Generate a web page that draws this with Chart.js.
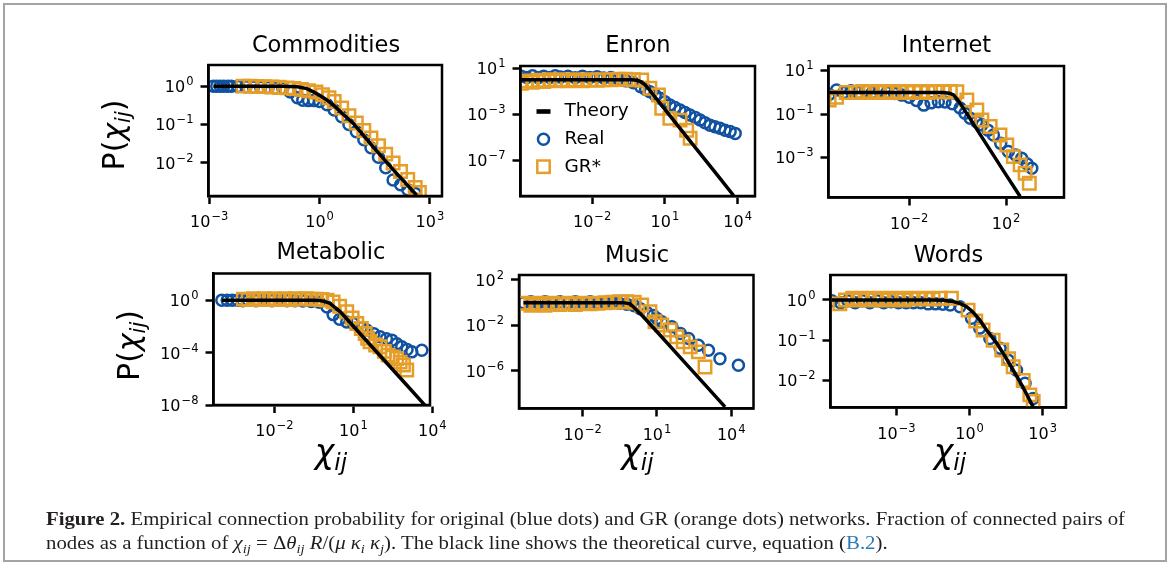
<!DOCTYPE html>
<html>
<head>
<meta charset="utf-8">
<script src="https://cdn.jsdelivr.net/npm/chart.js@4.4.1/dist/chart.umd.min.js"></script>
<style>
  html, body { margin: 0; padding: 0; background: #fff; }
  #page { position: relative; width: 1169px; height: 568px; overflow: hidden; background: #fff; }
  #page canvas { position: absolute; left: 0; top: 0; }
  #frame { position: absolute; left: 3px; top: 3px; width: 1164px; height: 559px; border: 2px solid #a3a3a3; box-sizing: border-box; }
  .cap { position: absolute; left: 46px; font-family: 'Liberation Serif', serif; font-size: 19px; line-height: 20px;
         white-space: nowrap; transform-origin: 0 50%; color: #231f20; }
  .cap sub { font-size: 70%; vertical-align: -0.3em; line-height: 0; }
  .cap .ref { color: #2a7ab8; }
</style>
</head>
<body>
<div id="page">
  <div id="frame"></div>
  <canvas id="c0" width="1169" height="568"></canvas>
  <canvas id="c1" width="1169" height="568"></canvas>
  <canvas id="c2" width="1169" height="568"></canvas>
  <canvas id="c3" width="1169" height="568"></canvas>
  <canvas id="c4" width="1169" height="568"></canvas>
  <canvas id="c5" width="1169" height="568"></canvas>
  <div class="cap" id="cap1" style="top:509px"><b>Figure 2.</b> Empirical connection probability for original (blue dots) and GR (orange dots) networks. Fraction of connected pairs of</div>
  <div class="cap" id="cap2" style="top:533px">nodes as a function of <i>χ<sub>ij</sub></i> = Δ<i>θ<sub>ij</sub></i> <i>R</i>/(<i>μ</i> <i>κ<sub>i</sub></i> <i>κ<sub>j</sub></i>). The black line shows the theoretical curve, equation (<span class="ref">B.2</span>).</div>
</div>
<script>
// ---- data: [chi, P(chi)] ----
const seriesLabels = ['Theory', 'Real', 'GR*'];

const commoditiesTheory = [[1.3e-3,1],[0.1,1],[0.25,0.96],[0.45,0.86],[0.68,0.71],[1,0.58],[1.5,0.45],[2.4,0.32],[4,0.2],[8.3,0.107],[29,0.026],[102,0.0066],[437,0.00145]];
const commoditiesReal = [[1.3e-3,1],[1.6e-3,1],[2e-3,1],[2.5e-3,1],[3.2e-3,1],[4e-3,1],[6e-3,0.98],[1e-2,0.97],[1.6e-2,0.95],[2.5e-2,0.93],[4e-2,0.92],[6.3e-2,0.9],[0.1,0.88],[0.16,0.7],[0.25,0.5],[0.35,0.43],[0.5,0.42],[0.7,0.42],[1,0.4],[1.6,0.33],[2.5,0.24],[4,0.16],[6.3,0.1],[10,0.065],[16,0.04],[25,0.025],[40,0.014],[63,0.0075],[100,0.0036],[160,0.0027],[250,0.002],[400,0.0016]];
const commoditiesGR = [[8.3e-3,1],[1.3e-2,1],[2e-2,0.98],[3.2e-2,0.97],[5e-2,0.95],[8e-2,0.93],[0.13,0.9],[0.2,0.87],[0.32,0.82],[0.5,0.76],[0.8,0.7],[1.2,0.6],[1.8,0.5],[2.5,0.4],[4,0.27],[6.3,0.17],[10,0.11],[16,0.07],[25,0.045],[40,0.028],[63,0.017],[100,0.01],[160,0.006],[250,0.0037],[400,0.0023],[520,0.0017]];

const enronTheory = [[1.1e-5,1],[0.4,1],[0.7,0.9],[1,0.68],[1.4,0.42],[1.8,0.25],[3,0.063],[10,2.6e-3],[100,5.8e-6],[1000,1.3e-8],[6800,8e-11]];
const enronReal = [[1.2e-5,2.0],[2e-5,1.6],[3.5e-5,2.2],[6e-5,1.5],[1e-4,2.0],[1.8e-4,1.6],[3e-4,2.2],[5e-4,1.7],[1e-3,2.0],[2e-3,1.5],[4e-3,2.0],[8e-3,1.6],[1.6e-2,1.8],[3e-2,1.4],[6e-2,1.6],[0.12,1.2],[0.25,0.8],[0.5,0.55],[1,0.25],[1.6,0.14],[2.4,0.091],[4,0.045],[6.3,0.024],[10,0.012],[16,6.3e-3],[26,3.8e-3],[42,2.3e-3],[67,1.4e-3],[107,8.3e-4],[180,5e-4],[282,3.1e-4],[450,1.8e-4],[724,1.1e-4],[1150,8e-5],[1860,5.8e-5],[3000,4e-5],[4900,3e-5],[7900,2.1e-5]];
const enronGR = [[1.2e-5,0.5],[2e-5,0.8],[3.5e-5,0.6],[6e-5,0.9],[1e-4,0.7],[1.8e-4,1.0],[3e-4,0.8],[5e-4,1.0],[1e-3,0.8],[2e-3,1.0],[4e-3,0.8],[8e-3,1.0],[1.6e-2,0.9],[3e-2,1.0],[6e-2,1.0],[0.12,1.1],[0.25,1.1],[0.5,1.0],[1.1,0.95],[2.4,0.18],[5.4,0.047],[7.4,3.2e-3],[16,4.3e-4],[42,3e-4],[79,4e-5],[110,8e-6]];

const internetTheory = [[5e-6,1],[0.25,1],[0.45,0.92],[0.68,0.76],[1,0.45],[1.26,0.32],[10,8.7e-3],[100,1.6e-4],[380,1.6e-5]];
const internetReal = [[5e-6,0.8],[1e-5,1.3],[2e-5,1.0],[4e-5,1.2],[8e-5,1.0],[1.6e-4,1.2],[3e-4,1.0],[6e-4,1.2],[1.2e-3,1.0],[2.5e-3,0.9],[5e-3,0.75],[1e-2,0.6],[2e-2,0.42],[4e-2,0.26],[8e-2,0.33],[0.16,0.37],[0.3,0.36],[0.6,0.3],[1.26,0.19],[2,0.11],[3.3,0.065],[6,0.045],[10,0.032],[18,0.018],[30,0.011],[60,4.5e-3],[124,1.9e-3],[250,1.3e-3],[440,9.3e-4],[750,5e-4],[1150,3.2e-4]];
const internetGR = [[5e-6,0.45],[1e-5,0.6],[2.5e-5,1.0],[6e-5,1.0],[1.2e-4,1.1],[2.5e-4,1.0],[5e-4,1.1],[1e-3,1.0],[2e-3,1.1],[4e-3,1.0],[8e-3,1.1],[1.6e-2,1.0],[3e-2,1.1],[6e-2,1.0],[0.12,1.1],[0.25,1.05],[0.5,1.1],[0.93,1.07],[2.4,0.45],[6.2,0.155],[10,0.054],[22,0.027],[56,0.011],[107,3.8e-3],[200,1.1e-3],[380,4.6e-4],[610,1.9e-4],[910,6.6e-5]];

const metabolicTheory = [[1e-4,1],[0.3,1],[0.55,0.95],[0.8,0.8],[1.3,0.56],[3.2,0.13],[10,0.0105],[100,6.6e-5],[1000,4.2e-7],[5200,1.1e-8]];
const metabolicReal = [[1e-4,1],[1.6e-4,1],[2.5e-4,1],[4e-4,1],[6.3e-4,0.9],[1e-3,1],[2e-3,0.9],[4e-3,1],[8e-3,0.9],[1.6e-2,1],[3e-2,0.9],[6e-2,0.9],[0.12,0.85],[0.25,0.8],[0.5,0.7],[1,0.3],[1.7,0.08],[3,0.035],[5.6,0.022],[10,0.017],[20,8e-3],[32,5.4e-3],[60,2.8e-3],[103,1.7e-3],[180,1.2e-3],[290,9.3e-4],[450,5e-4],[690,2.9e-4],[1100,1.8e-4],[1660,1.2e-4],[4000,1.6e-4]];
const metabolicGR = [[6.6e-4,1.2],[1e-3,1.1],[1.6e-3,1.3],[2.5e-3,1.1],[4e-3,1.3],[6.3e-3,1.1],[1e-2,1.3],[1.6e-2,1.1],[2.5e-2,1.3],[4e-2,1.1],[6.3e-2,1.3],[0.1,1.2],[0.16,1.3],[0.25,1.2],[0.4,1.2],[0.63,1.1],[1,1.0],[1.7,0.74],[3,0.35],[5.6,0.13],[9,0.045],[13.5,0.017],[20,7e-3],[28,3e-3],[35,1.3e-3],[43,6.9e-4],[70,4e-4],[103,2.9e-4],[150,1.3e-4],[210,6.8e-5],[300,5e-5],[440,3.8e-5],[600,2e-5],[800,1.2e-5],[1070,5e-6]];

const musicTheory = [[4e-5,1],[0.3,1],[0.5,0.97],[0.8,0.8],[1.1,0.44],[2.8,0.058],[10,2.8e-3],[100,1.1e-5],[1000,4.4e-8],[5600,6.9e-10]];
const musicReal = [[4e-5,1.0],[8e-5,1.2],[1.6e-4,1.0],[3e-4,1.2],[6e-4,1.0],[1.2e-3,1.2],[2.5e-3,1.0],[5e-3,1.2],[1e-2,1.0],[2e-2,1.2],[4e-2,1.0],[8e-2,1.1],[0.16,1.0],[0.3,0.9],[0.6,0.75],[1.2,0.55],[2.1,0.3],[4,0.13],[7.1,0.075],[10,0.04],[15.5,0.021],[40,7.6e-3],[87,2e-3],[190,7.1e-4],[470,1.8e-4],[1200,6.6e-5],[3500,1.2e-5],[19500,3.2e-6]];
const musicGR = [[4e-5,0.9],[8e-5,0.6],[1.6e-4,0.9],[3e-4,0.6],[6e-4,0.9],[1.2e-3,0.7],[2.5e-3,0.9],[5e-3,0.7],[1e-2,0.9],[2e-2,0.8],[4e-2,0.9],[8e-2,1.0],[0.16,1.1],[0.3,1.2],[0.6,1.2],[1.2,1.1],[2.4,0.62],[5.2,0.16],[8.3,0.021],[15.5,0.011],[34,3.9e-3],[63,1e-3],[115,3.6e-4],[220,1.3e-4],[470,4.7e-5],[870,2.2e-6]];

const wordsTheory = [[2.2e-6,1],[0.03,1],[0.08,0.98],[0.2,0.92],[0.4,0.82],[0.76,0.68],[1.3,0.52],[2.6,0.32],[5,0.18],[13,0.085],[30,0.038],[62,0.018],[150,0.0072],[410,0.0022]];
const wordsReal = [[2.2e-6,0.95],[5e-6,0.85],[1e-5,0.95],[2e-5,0.85],[4e-5,0.95],[8e-5,0.85],[1.6e-4,0.95],[3e-4,0.85],[6e-4,0.9],[1.2e-3,0.85],[2.5e-3,0.85],[5e-3,0.85],[1e-2,0.85],[2e-2,0.8],[4e-2,0.8],[0.08,0.78],[0.16,0.75],[0.4,0.68],[1.2,0.35],[2.6,0.2],[6.8,0.11],[18,0.063],[39,0.032],[85,0.018],[190,8.5e-3],[410,3.6e-3]];
const wordsGR = [[4.7e-6,0.8],[8e-6,1.0],[1.6e-5,1.1],[3.2e-5,1.0],[6.3e-5,1.1],[1.3e-4,1.0],[2.5e-4,1.1],[5e-4,1.0],[1e-3,1.1],[2e-3,1.0],[4e-3,1.1],[8e-3,1.05],[1.6e-2,1.1],[3.2e-2,1.05],[6.3e-2,1.1],[0.18,1.1],[0.87,0.56],[1.8,0.3],[3.6,0.18],[9.3,0.1],[21,0.057],[40,0.035],[62,0.022],[160,0.01],[300,4.4e-3],[410,3e-3]];

// tick values per panel
const commoditiesXTicks = [1e-3, 1, 1e3];
const commoditiesYTicks = [1, 1e-1, 1e-2];
const enronXTicks = [1e-2, 1e1, 1e4];
const enronYTicks = [1e1, 1e-3, 1e-7];
const internetXTicks = [1e-2, 1e2];
const internetYTicks = [1e1, 1e-1, 1e-3];
const metabolicXTicks = [1e-2, 1e1, 1e4];
const metabolicYTicks = [1, 1e-4, 1e-8];
const musicXTicks = [1e-2, 1e1, 1e4];
const musicYTicks = [1e2, 1e-2, 1e-6];
const wordsXTicks = [1e-3, 1, 1e3];
const wordsYTicks = [1, 1e-1, 1e-2];

// ---- layout (page pixels) ----
const panels = [
  { title: 'Commodities', theory: commoditiesTheory, real: commoditiesReal, gr: commoditiesGR, xt: commoditiesXTicks, yt: commoditiesYTicks,
    box: [208.5, 65, 442, 196], xr: [-3.02, 3.33], yr: [-2.86, 0.55], titleAt: [326, 52], yLabelAt: [124, 135] },
  { title: 'Enron', theory: enronTheory, real: enronReal, gr: enronGR, xt: enronXTicks, yt: enronYTicks,
    box: [520.5, 66, 755, 196], xr: [-4.955, 4.715], yr: [-10.14, 1.2], titleAt: [638, 51.7], legend: true },
  { title: 'Internet', theory: internetTheory, real: internetReal, gr: internetGR, xt: internetXTicks, yt: internetYTicks,
    box: [828.5, 66, 1064, 197.5], xr: [-5.33, 4.39], yr: [-4.84, 1.216], titleAt: [946.5, 52] },
  { title: 'Metabolic', theory: metabolicTheory, real: metabolicReal, gr: metabolicGR, xt: metabolicXTicks, yt: metabolicYTicks,
    box: [213.5, 273.5, 430, 405], xr: [-4.317, 3.913], yr: [-7.95, 2.02], titleAt: [331, 259.3], yLabelAt: [139, 345.5], xLabelAt: [331, 463] },
  { title: 'Music', theory: musicTheory, real: musicReal, gr: musicGR, xt: musicXTicks, yt: musicYTicks,
    box: [519, 275, 753.5, 408.5], xr: [-4.577, 4.9], yr: [-9.31, 2.44], titleAt: [637, 261.7], xLabelAt: [637.5, 463] },
  { title: 'Words', theory: wordsTheory, real: wordsReal, gr: wordsGR, xt: wordsXTicks, yt: wordsYTicks,
    box: [830.5, 275, 1066, 407.5], xr: [-5.71, 3.96], yr: [-2.67, 0.62], titleAt: [948.5, 261.7], xLabelAt: [950, 463] }
];

const BLUE = 'rgb(16,82,160)';
const ORANGE = 'rgb(229,158,40)';
const FONT = '"DejaVu Sans"';
const YAXIS_W = 100, XAXIS_H = 60;

// "10" with a raised exponent, like matplotlib's mathtext tick labels
function drawPow(ctx, v, x, by, align) {
  const e = Math.round(Math.log10(v));
  const ex = e < 0 ? '\u2212' + (-e) : String(e);
  ctx.textBaseline = 'alphabetic';
  ctx.textAlign = 'left';
  ctx.font = `16px ${FONT}`;
  const wb = ctx.measureText('10').width;
  ctx.font = `11.5px ${FONT}`;
  const we = ctx.measureText(ex).width;
  const total = wb + 1 + we;
  const x0 = align === 'right' ? x - total : x - total / 2;
  ctx.font = `16px ${FONT}`;
  ctx.fillText('10', x0, by);
  ctx.font = `11.5px ${FONT}`;
  ctx.fillText(ex, x0 + wb + 1, by - 7);
}

// draw a run of text pieces (mixed upright/italic/subscript) centred at cx on baseline by
function drawMath(ctx, parts, cx, by) {
  let w = 0;
  parts.forEach(p => { ctx.font = p.f; p.w = ctx.measureText(p.t).width; w += p.w; });
  let x = cx - w / 2;
  ctx.textAlign = 'left';
  ctx.textBaseline = 'alphabetic';
  parts.forEach(p => { ctx.font = p.f; ctx.fillText(p.t, x, by + (p.dy || 0)); x += p.w; });
}
function chiParts(size, withP) {
  const sub = { t: 'ij', f: `italic ${Math.round(size * 0.7)}px ${FONT}`, dy: size * 0.2 };
  const chi = { t: 'χ', f: `italic ${size}px ${FONT}` };
  if (!withP) return [chi, sub];
  return [{ t: 'P(', f: `${size}px ${FONT}` }, chi, sub, { t: ')', f: `${size}px ${FONT}` }];
}

const panelDecor = {
  id: 'panelDecor',
  afterDraw(chart, args, opts) {
    const ctx = chart.ctx, a = chart.chartArea;
    const xs = chart.scales.x, ys = chart.scales.y;
    ctx.save();
    ctx.strokeStyle = '#000';
    ctx.lineWidth = 2.5;
    ctx.strokeRect(a.left, a.top, a.right - a.left, a.bottom - a.top);
    ctx.fillStyle = '#000';
    // tick labels
    xs.ticks.forEach(t => drawPow(ctx, t.value, xs.getPixelForValue(t.value), a.bottom + 31, 'center'));
    ys.ticks.forEach(t => drawPow(ctx, t.value, a.left - 15, ys.getPixelForValue(t.value) + 5.8, 'right'));
    // title
    ctx.font = `22.5px ${FONT}`;
    ctx.textAlign = 'center';
    ctx.textBaseline = 'alphabetic';
    ctx.fillText(opts.title, opts.titleAt[0], opts.titleAt[1]);
    if (opts.yLabelAt) {
      ctx.save();
      ctx.translate(opts.yLabelAt[0], opts.yLabelAt[1]);
      ctx.rotate(-Math.PI / 2);
      drawMath(ctx, chiParts(30, true), 0, 0);
      ctx.restore();
    }
    if (opts.xLabelAt) drawMath(ctx, chiParts(33, false), opts.xLabelAt[0], opts.xLabelAt[1]);
    if (opts.legend) {
      const ds = chart.data.datasets;
      const mx = a.left + 23, tx = a.left + 44;
      const rows = [a.top + 45.5, a.top + 73.3, a.top + 100.7];
      ctx.fillStyle = '#000';
      ctx.fillRect(mx - 7, rows[0] - 2.3, 14, 4.6);
      ctx.lineWidth = 2.5;
      ctx.strokeStyle = BLUE;
      ctx.beginPath(); ctx.arc(mx, rows[1], 5.5, 0, Math.PI * 2); ctx.stroke();
      ctx.strokeStyle = ORANGE;
      ctx.strokeRect(mx - 6.2, rows[2] - 6.2, 12.4, 12.4);
      ctx.fillStyle = '#000';
      ctx.font = `18.5px ${FONT}`;
      ctx.textAlign = 'left';
      ctx.textBaseline = 'middle';
      ds.forEach((d, i) => ctx.fillText(d.label, tx, rows[i]));
    }
    ctx.restore();
  }
};

function axis(min, max, ticks, isX) {
  return {
    type: 'logarithmic',
    position: isX ? 'bottom' : 'left',
    min: Math.pow(10, min),
    max: Math.pow(10, max),
    afterBuildTicks: s => { s.ticks = ticks.map(v => ({ value: v })); },
    afterFit: s => { if (isX) s.height = XAXIS_H; else s.width = YAXIS_W; },
    grid: { display: true, drawOnChartArea: false, drawTicks: true, tickLength: 8, tickWidth: 2.5, tickColor: '#000' },
    border: { display: true, color: '#000', width: 2.5 },
    ticks: { display: false, autoSkip: false, maxRotation: 0, minRotation: 0 }
  };
}

panels.forEach((p, i) => {
  const [L, T, R, B] = p.box;
  new Chart(document.getElementById('c' + i), {
    type: 'scatter',
    data: {
      datasets: [
        { label: seriesLabels[0], data: p.theory, showLine: true, borderColor: '#000', borderWidth: 3.5,
          pointRadius: 0, tension: 0, order: 0, clip: 0 },
        { label: seriesLabels[1], data: p.real, pointStyle: 'circle', pointRadius: 5.5, pointBorderWidth: 2.5,
          pointBorderColor: BLUE, pointBackgroundColor: 'rgba(0,0,0,0)', order: 2, clip: 0 },
        { label: seriesLabels[2], data: p.gr, pointStyle: 'rect', pointRadius: 8.8, pointBorderWidth: 2.5,
          pointBorderColor: ORANGE, pointBackgroundColor: 'rgba(0,0,0,0)', order: 1, clip: 0 }
      ]
    },
    options: {
      responsive: false,
      animation: false,
      devicePixelRatio: 1,
      events: [],
      layout: { padding: { left: L - YAXIS_W, top: T, right: 1169 - R, bottom: 568 - B - XAXIS_H } },
      scales: { x: axis(p.xr[0], p.xr[1], p.xt, true), y: axis(p.yr[0], p.yr[1], p.yt, false) },
      plugins: {
        legend: { display: false },
        tooltip: { enabled: false },
        panelDecor: { title: p.title, titleAt: p.titleAt, yLabelAt: p.yLabelAt || null,
                      xLabelAt: p.xLabelAt || null, legend: !!p.legend }
      }
    },
    plugins: [panelDecor]
  });
});

// squeeze the caption to the width it has in the figure
function fitCaption() {
  const c1 = document.getElementById('cap1'), c2 = document.getElementById('cap2');
  c1.style.transform = c2.style.transform = 'none';
  const k = 1079 / c1.getBoundingClientRect().width;
  c1.style.transform = c2.style.transform = `scaleX(${k})`;
}
fitCaption();
if (document.fonts) document.fonts.ready.then(fitCaption);
</script>
</body>
</html>
